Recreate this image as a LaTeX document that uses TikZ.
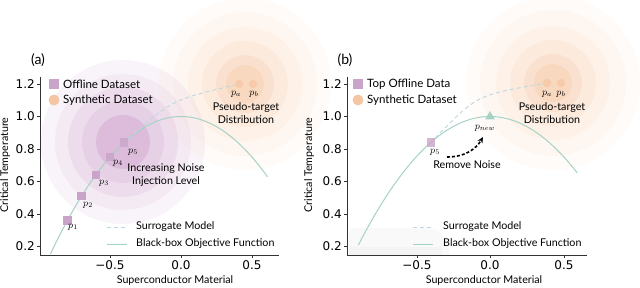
\documentclass[tikz,border=0pt]{standalone}
\usepackage{fontspec}
\setmainfont{Lato}
\newfontfamily\tickfont{DejaVu Sans}
\usetikzlibrary{shapes.geometric,arrows.meta}
\definecolor{purp}{HTML}{C9A3C8}
\definecolor{purpring}{HTML}{C48FC1}
\definecolor{orng}{HTML}{F5C6A4}
\definecolor{orngring}{HTML}{F4B88C}
\definecolor{mint}{HTML}{A6D2C6}
\definecolor{surr}{HTML}{BAD8E2}
\definecolor{axisc}{HTML}{333333}
\tikzset{
 sq/.style={rectangle, fill=purp, minimum size=8.5pt, inner sep=0pt},
 synth/.style={circle, fill=orng, minimum size=11pt, inner sep=0pt},
 pdot/.style={circle, fill=orngring, minimum size=8.5pt, inner sep=0pt, fill opacity=0.45},
 lbl/.style={font=\fontsize{10.7}{12}\selectfont, inner sep=0pt},
 leglbl/.style={font=\fontsize{11.5}{13}\selectfont, inner sep=0pt},
 ticklbl/.style={font=\tickfont\fontsize{12}{12}\selectfont, inner sep=0pt},
 bbox/.style={draw=mint, line width=1pt},
 surrline/.style={draw=surr, line width=0.9pt, dash pattern=on 4pt off 3pt},
 spine/.style={draw=axisc, line width=0.8pt},
 plbl/.style={font=\fontsize{10}{12}\selectfont, inner sep=0pt},
 title/.style={font=\fontsize{14}{15}\selectfont, inner sep=0pt},
}
\begin{document}
\begin{tikzpicture}[x=1pt,y=-1pt]
\useasboundingbox (0,0) rectangle (640,287);
% ---------- backgrounds ----------
\foreach \r/\o in {82/0.1,68/0.09,55/0.146,41/0.17,27/0.31} {\fill[purpring, fill opacity=\o] (123,142) circle (\r pt);}
\foreach \r/\o in {86/0.06,72/0.064,57/0.09,43/0.125,29/0.17,19/0.22} {\fill[orngring, fill opacity=\o] (245,84) circle (\r pt);}
\foreach \r/\o in {87/0.06,73/0.064,57/0.09,43/0.125,29/0.17,19/0.22} {\fill[orngring, fill opacity=\o] (553,83) circle (\r pt);}
\fill[gray!5] (349,255) -- (349,233) .. controls (350,228) .. (362,228) -- (428,228) .. controls (442,228) and (448,240) .. (450,255) -- cycle;
\fill[gray!9] (349,247) rectangle (442,255);
% ---------- panel (a) axes ----------
\draw[spine] (40,77) -- (40,255) -- (279,255);
\foreach \v/\t in {0.2/0.2,0.4/0.4,0.6/0.6,0.8/0.8,1.0/1.0,1.2/1.2} {
  \draw[spine] (37,279-162.5*\v) -- (40,279-162.5*\v);
  \node[ticklbl, anchor=east] (ya\t) at (35,279-162.5*\v) {\t};
}
\foreach \x/\t/\n in {110/{−0.5}/m,181/{0.0}/z,252/{0.5}/p} {
  \draw[spine] (\x,255) -- (\x,258);
  \node[ticklbl, anchor=north] (xa\n) at (\x,260) {\t};
}
\node[lbl, rotate=90] (ylaba) at (5,165) {Critical Temperature};
\node[lbl] (xlaba) at (175,280) {Superconductor Material};
\node[title] (ta) at (38,60) {(a)};
% ---------- panel (b) axes ----------
\draw[spine] (347,77) -- (347,255) -- (587,255);
\foreach \v/\t in {0.2/0.2,0.4/0.4,0.6/0.6,0.8/0.8,1.0/1.0,1.2/1.2} {
  \draw[spine] (344,279-162.5*\v) -- (347,279-162.5*\v);
  \node[ticklbl, anchor=east] (yb\t) at (342,279-162.5*\v) {\t};
}
\foreach \x/\t/\n in {417/{−0.5}/m,490/{0.0}/z,564/{0.5}/p} {
  \draw[spine] (\x,255) -- (\x,258);
  \node[ticklbl, anchor=north] (xb\n) at (\x,260) {\t};
}
\node[lbl, rotate=90] (ylabb) at (309,165) {Critical Temperature};
\node[lbl] (xlabb) at (484,280) {Superconductor Material};
\node[title] (tb) at (345,60) {(b)};
% ---------- panel (a) data ----------
\begin{scope}[shift={(181,279)}, x=142pt, y=162.5pt]
  \draw[bbox] plot[domain=-0.92:0.61, samples=80, smooth] (\x,{1-\x*\x});
  \node[sq] (a1) at (-0.8,{1-0.64}) {};
  \node[sq] (a2) at (-0.7,{1-0.49}) {};
  \node[sq] (a3) at (-0.6,{1-0.36}) {};
  \node[sq, fill opacity=0.8] (a4) at (-0.5,{1-0.25}) {};
  \node[sq, fill opacity=0.7] (a5) at (-0.4,{1-0.16}) {};
\end{scope}
\node[plbl] (la1) at (73,227) {$p_1$};
\node[plbl] (la2) at (88,205) {$p_2$};
\node[plbl] (la3) at (104,183) {$p_3$};
\node[plbl] (la4) at (118,163) {$p_4$};
\node[plbl] (la5) at (133,152) {$p_5$};
\node[lbl, align=center] (noise) at (166,175) {Increasing Noise\\[1pt]Injection Level};
\node[pdot] (aa) at (239,84) {};
\node[pdot] (ab) at (253,84) {};
\node[plbl] (laa) at (236,94) {$p_a$};
\node[plbl] (lab) at (254,94) {$p_b$};
\node[lbl] (pta) at (246,108) {Pseudo-target};
\node[lbl] (dsa) at (246,120) {Distribution};
\draw[surrline] (a5) .. controls (172,100) .. (aa);
% legends (a)
\node[sq, minimum size=10pt] (lga) at (54,84) {};
\node[leglbl, anchor=west] (lgat) at (63,84) {Offline Dataset};
\node[synth] (lgc) at (54,100) {};
\node[leglbl, anchor=west] (lgct) at (63,100) {Synthetic Dataset};
\coordinate (sa1) at (107,227); \coordinate (sa2) at (127,227);
\draw[surrline] (sa1) -- (sa2);
\node[lbl, anchor=west] (lsa) at (136,227) {Surrogate Model};
\coordinate (ba1) at (107,244); \coordinate (ba2) at (127,244);
\draw[bbox] (ba1) -- (ba2);
\node[lbl, anchor=west] (lba) at (136,244) {Black-box Objective Function};
% ---------- panel (b) data ----------
\begin{scope}[shift={(490,279)}, x=148pt, y=162.5pt]
  \draw[bbox] plot[domain=-0.89:0.59, samples=80, smooth] (\x,{1-\x*\x});
  \node[sq, fill opacity=0.8] (b5) at (-0.4,{1-0.16}) {};
  \node[regular polygon, regular polygon sides=3, fill=mint, minimum size=11pt, inner sep=0pt] (bnew) at (0,1.0) {};
\end{scope}
\node[plbl] (lb5) at (435,152) {$p_5$};
\node[plbl] (lbnew) at (485,128) {$p_{new}$};
\node[lbl] (rn) at (467,165) {Remove Noise};
\coordinate (rnS) at (447,157);
\coordinate (rnE) at (483,137);
\draw[black, line width=1.6pt, dash pattern=on 3pt off 2pt, -{Stealth[length=6pt,width=5.5pt]}] (rnS) .. controls (465,157) and (476,149) .. (rnE);
\node[pdot] (ba) at (547,83) {};
\node[pdot] (bb) at (561,83) {};
\node[plbl] (lba2) at (547,94) {$p_a$};
\node[plbl] (lbb) at (561,94) {$p_b$};
\node[lbl] (ptb) at (552,108) {Pseudo-target};
\node[lbl] (dsb) at (552,120) {Distribution};
\draw[surrline] (b5) .. controls (477,95) .. (ba);
% legends (b)
\node[sq, minimum size=10pt] (lgb) at (358,84) {};
\node[leglbl, anchor=west] (lgbt) at (367,84) {Top Offline Data};
\node[synth] (lgd) at (358,100) {};
\node[leglbl, anchor=west] (lgdt) at (367,100) {Synthetic Dataset};
\coordinate (sb1) at (413,227); \coordinate (sb2) at (433,227);
\draw[surrline] (sb1) -- (sb2);
\node[lbl, anchor=west] (lsb) at (443,227) {Surrogate Model};
\coordinate (bb1) at (413,244); \coordinate (bb2) at (433,244);
\draw[bbox] (bb1) -- (bb2);
\node[lbl, anchor=west] (lbb2) at (443,244) {Black-box Objective Function};
\end{tikzpicture}
\end{document}
